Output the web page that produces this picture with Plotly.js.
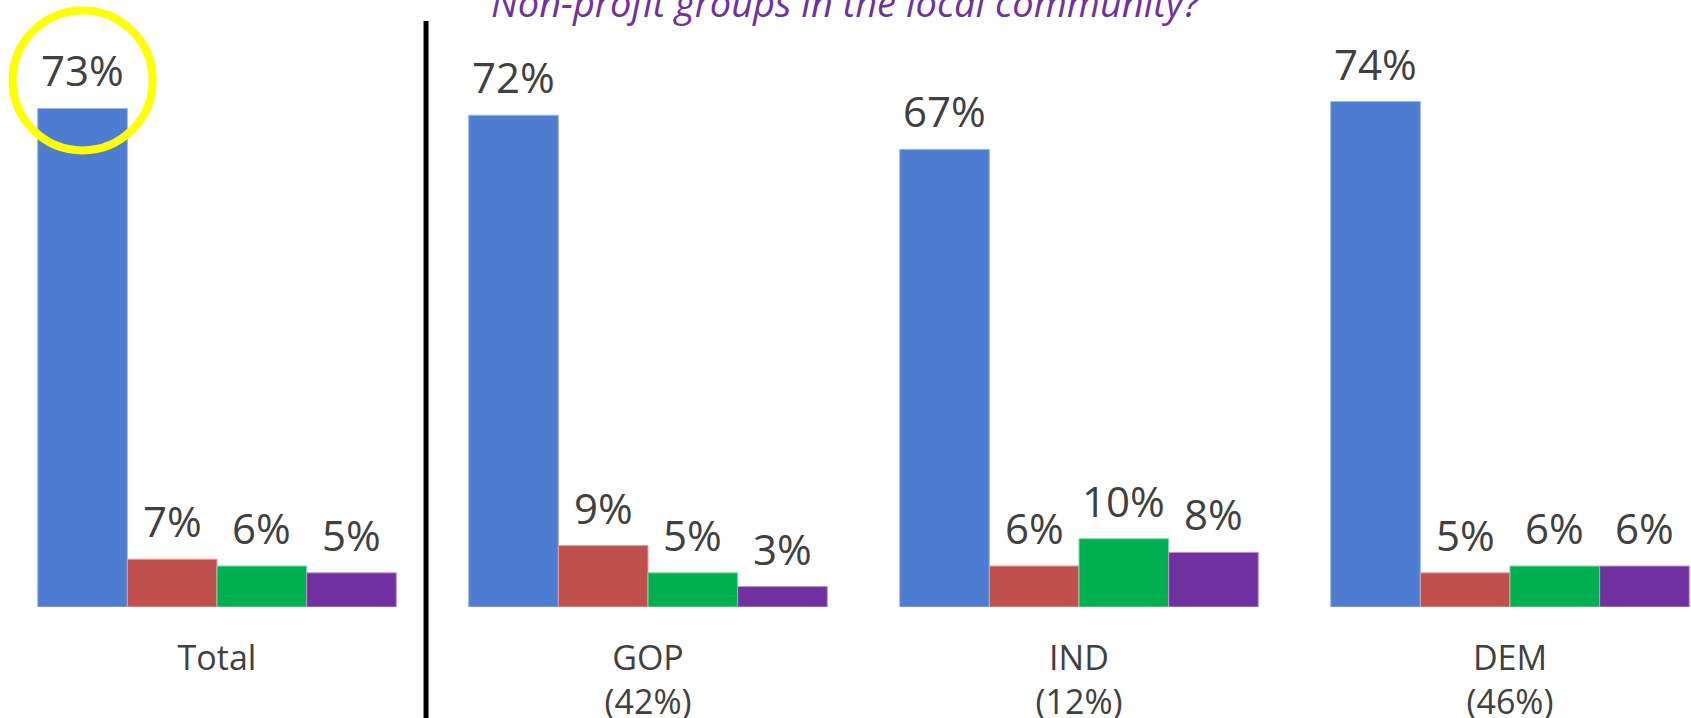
<!DOCTYPE html>
<html><head><meta charset="utf-8">
<script src="https://cdn.plot.ly/plotly-3.0.1.min.js"></script>
<style>html,body{margin:0;padding:0;background:#fff}#chart{width:1691px;height:718px}</style>
</head><body><div id="chart"></div>
<script>
const categories = ['Total', 'GOP<br>(42%)', 'IND<br>(12%)', 'DEM<br>(46%)'];
const seriesNames = ['Response 1', 'Response 2', 'Response 3', 'Response 4'];
const series1 = [73, 72, 67, 74];
const series2 = [7, 9, 6, 5];
const series3 = [6, 5, 10, 6];
const series4 = [5, 3, 8, 6];
const titleText = 'Non-profit groups in the local community?';

const allSeries = [series1, series2, series3, series4];
const colors = ['#4D7CD0', '#C0504D', '#00B050', '#7030A0'];
const outline = ['#9DB7E6', '#E0A09E', '#80D8A8', '#B898D0'];
const bargap = 0.168;
const barW = (1 - bargap) / allSeries.length;
const fontFam = '"Open Sans", "Liberation Sans", sans-serif';
const txtColor = '#404040';

const traces = allSeries.map((vals, j) => ({
  type: 'bar',
  name: seriesNames[j],
  x: categories,
  y: vals,
  marker: {color: colors[j], line: {color: outline[j], width: 1}},
  hoverinfo: 'y'
}));

const annotations = [];
allSeries.forEach((vals, j) => {
  vals.forEach((v, i) => {
    annotations.push({
      x: i + (j - (allSeries.length - 1) / 2) * barW,
      y: v,
      xref: 'x', yref: 'y',
      text: v + '%',
      showarrow: false,
      yanchor: 'bottom',
      yshift: 8,
      font: {family: fontFam, size: 42, color: txtColor}
    });
  });
});
annotations.push({
  x: 0.5003, y: 1, xref: 'paper', yref: 'paper',
  text: '<i>' + titleText + '</i>',
  showarrow: false, yanchor: 'bottom', yshift: -30,
  font: {family: fontFam, size: 38, color: '#7030A0'}
});

const layout = {
  width: 1691, height: 718, autosize: false,
  margin: {l: 0, r: 0, t: 0, b: 111, pad: 0},
  paper_bgcolor: '#ffffff', plot_bgcolor: '#ffffff',
  showlegend: false,
  barmode: 'group', bargap: bargap, bargroupgap: 0,
  xaxis: {
    type: 'category', range: [-0.5035, 3.42],
    showgrid: false, zeroline: false, showline: false, ticks: '',
    ticklabelstandoff: 28,
    tickfont: {family: fontFam, size: 34, color: txtColor},
    fixedrange: true
  },
  yaxis: {
    range: [0, 88.87], visible: false, showgrid: false, zeroline: false, fixedrange: true
  },
  annotations: annotations,
  shapes: [
    {type: 'line', xref: 'x', yref: 'paper', x0: 0.485, x1: 0.485, y0: -0.19, y1: 0.9654,
     line: {color: '#000000', width: 5}},
    {type: 'circle', xref: 'x', yref: 'y', xsizemode: 'pixel', ysizemode: 'pixel',
     xanchor: (0 - (allSeries.length - 1) / 2) * barW, yanchor: series1[0],
     x0: -70, x1: 70, y0: -42, y1: 98,
     line: {color: '#FFFF00', width: 8}}
  ]
};

Plotly.newPlot('chart', traces, layout, {displayModeBar: false, staticPlot: true});
</script>
</body></html>
